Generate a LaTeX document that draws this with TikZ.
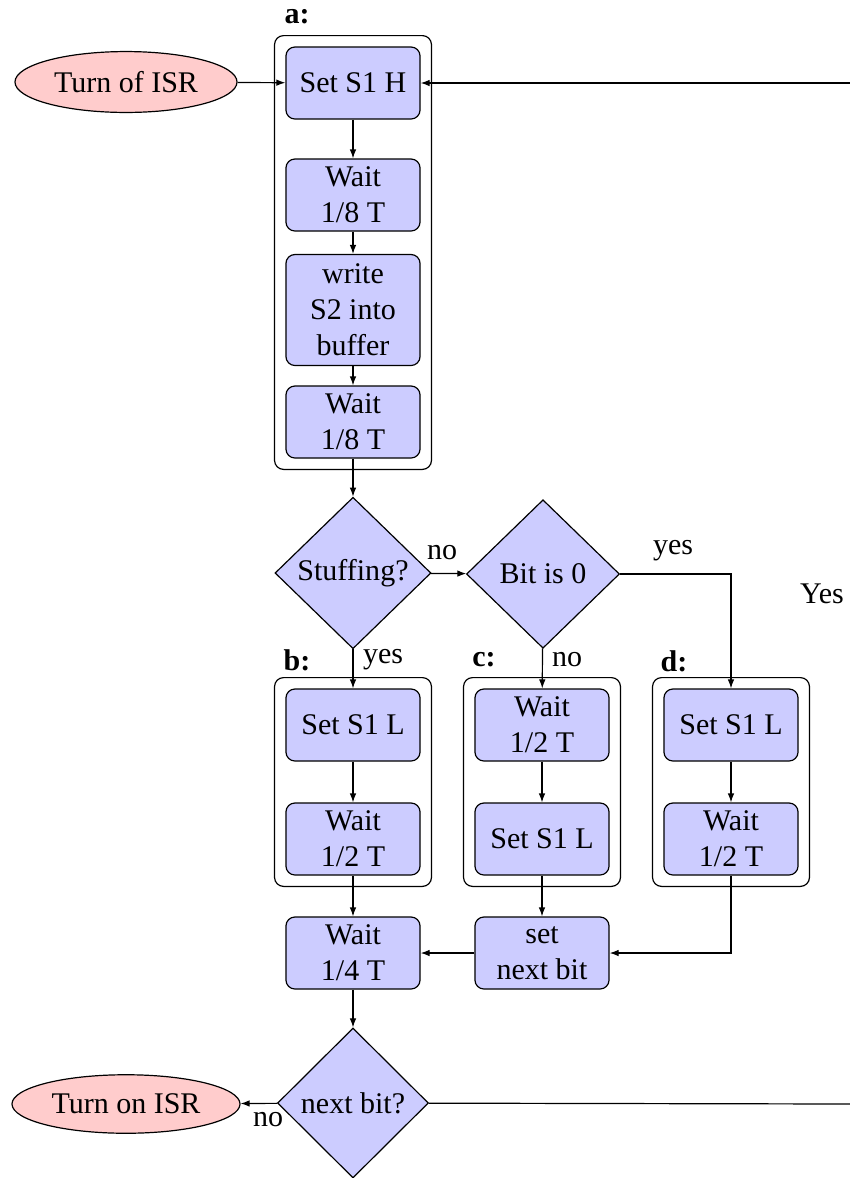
\documentclass[tikz,border=0pt]{standalone}
\usepackage{fontspec}
\setmainfont{Liberation Serif}
\usetikzlibrary{shapes.geometric,arrows.meta,fit}

\begin{document}
\begin{tikzpicture}[x=0.3333pt,y=-0.3333pt,
  font=\fontsize{10}{12}\selectfont,
  box/.style={draw, fill=blue!20, rounded corners=3pt, minimum width=44.7pt,
    minimum height=24pt, inner sep=2pt, align=center},
  dec/.style={draw, fill=blue!20, diamond, inner sep=0pt,
    minimum width=52pt, minimum height=50.5pt},
  term/.style={draw, fill=red!20, ellipse, inner sep=0pt,
    minimum width=74pt, minimum height=20.3pt},
  grp/.style={draw, rounded corners=3pt, inner sep=3.6pt},
  lbl/.style={font=\fontsize{10}{12}\selectfont\bfseries},
  arr/.style={-{Latex[length=3pt,width=2.2pt]}},
  ]
\useasboundingbox (0,0) rectangle (850,1178);

% start / end terminals
\node[term] (off) at (126,82) {Turn of ISR};
\node[term, minimum width=76pt, minimum height=19.5pt] (on) at (126,1104) {Turn on ISR};

% block a
\node[box] (s1h) at (353,83) {Set S1 H};
\node[box] (w8a) at (353,195) {Wait\\1/8 T};
\node[box, minimum height=37pt] (wr) at (353,310) {write\\S2 into\\buffer};
\node[box] (w8b) at (353,422) {Wait\\1/8 T};
\node[grp, fit=(s1h)(w8b)] (ga) {};
\node[lbl] (la) at (297,17) {a:};

% decisions
\node[dec] (stf) at (353,573) {Stuffing?};
\node[dec, minimum width=51pt, minimum height=49.5pt] (b0) at (543,574) {Bit is 0};

% block b
\node[box] (bs) at (353,725) {Set S1 L};
\node[box] (bw) at (353,839) {Wait\\1/2 T};
\node[grp, fit=(bs)(bw)] (gb) {};
\node[lbl] (lb) at (297,660) {b:};

% block c
\node[box] (cw) at (542,725) {Wait\\1/2 T};
\node[box] (cs) at (542,839) {Set S1 L};
\node[grp, fit=(cw)(cs)] (gc) {};
\node[lbl] (lc) at (484,660) {c:};

% block d
\node[box] (ds) at (731,725) {Set S1 L};
\node[box] (dw) at (731,839) {Wait\\1/2 T};
\node[grp, fit=(ds)(dw)] (gd) {};
\node[lbl] (ld) at (674,661) {d:};

% merge
\node[box] (w4) at (353,953) {Wait\\1/4 T};
\node[box] (nb) at (542,953) {set\\next bit};
\node[dec, minimum width=50.3pt, minimum height=50pt] (nxt) at (353,1103) {next bit?};

% loose ends at the right border
\coordinate (rtop) at (850,83);
\coordinate (rbot) at (850,1104);

% connectors
\draw[arr] (off) -- (s1h);
\draw[arr] (rtop) -- (s1h);
\draw[arr] (s1h) -- (w8a);
\draw[arr] (w8a) -- (wr);
\draw[arr] (wr) -- (w8b);
\draw[arr] (w8b) -- (stf);
\draw[arr] (stf) -- (b0);
\draw[arr] (stf) -- (bs);
\draw[arr] (b0) -- (cw);
\draw[arr] (b0.east) -| (ds);
\draw[arr] (bs) -- (bw);
\draw[arr] (cw) -- (cs);
\draw[arr] (ds) -- (dw);
\draw[arr] (bw) -- (w4);
\draw[arr] (cs) -- (nb);
\draw[arr] (dw) |- (nb);
\draw[arr] (nb) -- (w4);
\draw[arr] (w4) -- (nxt);
\draw[arr] (nxt) -- (on);
\draw (nxt) -- (rbot);

% edge labels
\node (tno1) at (442,553) {no};
\node (tyes1) at (673,551) {yes};
\node (tyes2) at (383,660) {yes};
\node (tno2) at (567,660) {no};
\node (tyes3) at (822,594) {Yes};
\node (tno3) at (268,1120) {no};
\end{tikzpicture}
\end{document}
